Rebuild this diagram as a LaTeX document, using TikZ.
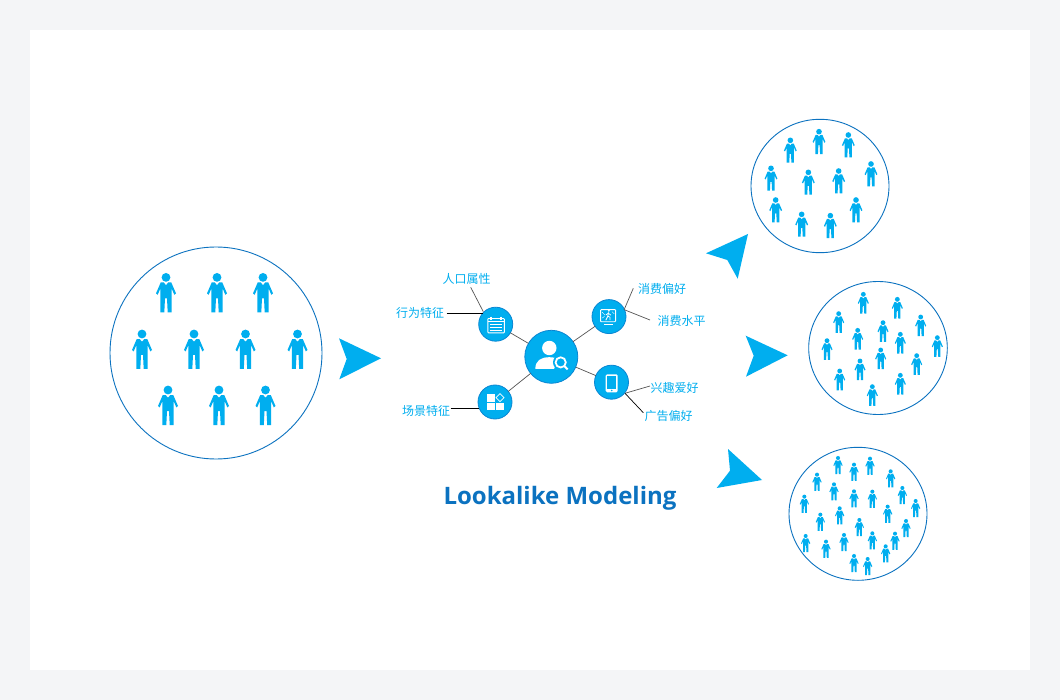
\documentclass[tikz,border=0pt]{standalone}
\usepackage{fontspec}
\setmainfont{Noto Sans CJK SC}
\newfontfamily\titlefont{Open Sans}
\definecolor{cy}{HTML}{00AEEF}
\definecolor{ringc}{HTML}{0B72C0}
\definecolor{rimc}{HTML}{0A86D2}
\definecolor{pagebg}{HTML}{F4F5F7}
\definecolor{leadc}{HTML}{555555}
\tikzset{
 person/.pic={
  \fill[cy] (0,0) circle (4.4);
  \fill[cy] (-5.3,5.1) -- (-2.2,5.1) -- (0,7.8) -- (2.2,5.1) -- (5.3,5.1) -- (10,16) -- (8.3,17.4) -- (5.7,11.2) -- (5.7,35) -- (1.7,35) -- (1,21) -- (-1,21) -- (-1.7,35) -- (-5.7,35) -- (-5.7,11.2) -- (-8.3,17.4) -- (-10,16) -- cycle;
 },
 ring/.style={draw=ringc,line width=0.9pt,fill=white},
 dart/.style={fill=cy},
 hubnode/.style={circle,fill=cy,draw=rimc,line width=0.8pt,inner sep=0,outer sep=0,minimum size=#1},
 lab/.style={text=cy,font=\fontsize{12}{14}\selectfont,inner sep=0},
 lead/.style={draw=leadc,line width=0.7pt},
 leadk/.style={draw=black,line width=0.7pt},
 ico/.style={draw=white,line width=0.9pt},
}
\begin{document}
\begin{tikzpicture}[x=1pt,y=-1pt]
\useasboundingbox (0,0) rectangle (1060,700);
\fill[pagebg] (0,0) rectangle (1060,700);
\fill[white] (30,30) rectangle (1030,670);
% population circles
\draw[ring] (216,353) circle (106);
\draw[ring] (820,186) ellipse [x radius=69,y radius=66.7];
\draw[ring] (878,348) ellipse [x radius=69.3,y radius=66.5];
\draw[ring] (858,513.8) ellipse [x radius=69,y radius=66.5];
% people
\foreach \x/\y in {166/277.4,217/277.4,263/277.4,142/334,194/334,245.5/334,297.5/334,168/390,219/390,265.5/390}
 \pic at (\x,\y) {person};
\foreach \x/\y in {136/76,222/50,310/60,78/160,190/172,281/168,378/147,92/255,170/298,256/302,333/255}
 \pic[scale=.64] at ({745+\x/3},{115+\y/3}) {person};
\foreach \x/\y in {181/52,283/67,107/110,164/160,240/137,292/172,353/120,403/182,72/191,233/219,341/236,171/252,110/282,292/295,208/329}
 \pic[scale=.55] at ({803+\x/3},{277+\y/3}) {person};
\foreach \x/\y in {165/45,213/65,261/47,323/85,102/95,153/124,358/135,213/145,268/146,64/161,398/174,170/196,314/191,112/215,229/231,369/234,68/279,129/296,183/276,268/271,336/272,308/310,213/339,254/348}
 \pic[scale=.46] at ({783+\x/3},{443+\y/3}) {person};
% darts
\fill[dart] (339,338.3) -- (381,358.3) -- (339.3,379.3) -- (346.7,359) -- cycle;
\fill[dart] (745.7,335.7) -- (787.7,355.3) -- (746,376.7) -- (753.7,355.7) -- cycle;
\fill[dart] (728,449) -- (762,480) -- (716.7,488) -- (730,470.7) -- cycle;
\fill[dart] (748,234) -- (706,253.3) -- (727.3,260) -- (737.7,278.7) -- cycle;
% hub nodes
\node[hubnode=53pt] (hub) at (551.3,356.8) {};
\node[hubnode=34pt] (cal) at (495.7,324.2) {};
\node[hubnode=34pt] (mon) at (609,316.6) {};
\node[hubnode=34pt] (pho) at (611.5,382.2) {};
\node[hubnode=34pt] (blk) at (495,402) {};
\draw[lead] (hub) -- (cal);
\draw[lead] (hub) -- (mon);
\draw[lead] (hub) -- (pho);
\draw[lead] (hub) -- (blk);
% labels
\node[lab] (l1) at (466.7,279.2) {人口属性};
\node[lab] (l2) at (420,313.2) {行为特征};
\node[lab] (l3) at (426,410.6) {场景特征};
\node[lab] (l4) at (662,289.2) {消费偏好};
\node[lab] (l5) at (681.7,321.2) {消费水平};
\node[lab] (l6) at (674.7,387.6) {兴趣爱好};
\node[lab] (l7) at (668.7,416.2) {广告偏好};
% leader lines
\coordinate (c1) at (470.7,287.3);
\coordinate (c2) at (446.7,313);
\coordinate (c3) at (450.7,408.3);
\coordinate (c4) at (633.3,288.3);
\coordinate (c5) at (650,320);
\coordinate (c6) at (650,386);
\coordinate (c7) at (643.3,412.7);
\coordinate (m1) at (483.3,311.7);
\coordinate (m2) at (483.3,313);
\coordinate (m3) at (478.7,408.3);
\coordinate (m4) at (624,310);
\coordinate (m5) at (625,310);
\coordinate (m6) at (625,393.3);
\draw[lead] (c1) -- (m1);
\draw[leadk] (c2) -- (m2);
\draw[leadk] (c3) -- (m3);
\draw[lead] (c4) -- (m4);
\draw[lead] (c5) -- (m5);
\draw[lead] (c6) -- (m6);
\draw[leadk] (c7) -- (m6);
% hub icon
\fill[white] (549.3,348) circle (7.2);
\fill[white] (535.3,369) .. controls (535.3,360.5) and (541,357.2) .. (549.3,357.2) .. controls (553,357.2) and (556,358) .. (558,359.5) -- (554,369) -- cycle;
\draw[draw=cy,line width=1.6pt,fill=cy] (560.7,362.4) circle (6.9);
\draw[white,line width=1.8pt,fill=cy] (560.7,362.4) circle (5.1);
\draw[white,line width=2pt] (564.6,366.2) -- (567.6,369.4);
% calendar icon
\draw[ico,rounded corners=0.8pt] (487.8,318.5) rectangle (504.4,332.9);
\draw[ico,line width=1.2pt] (491,316.6) -- (491,319.8);
\draw[ico,line width=1.2pt] (501,316.6) -- (501,319.8);
\draw[ico] (487.8,321.5) -- (504.4,321.5);
\draw[ico,line width=0.8pt] (490,324.4) -- (502,324.4);
\draw[ico,line width=0.8pt] (490,327.2) -- (502,327.2);
\draw[ico,line width=0.8pt] (490,330) -- (502,330);
% monitor icon
\draw[ico,rounded corners=0.8pt] (600.6,309.6) rectangle (615.6,321.8);
\fill[white] (603.7,324) rectangle (612.5,325.1);
\fill[white] (608.8,310.8) circle (1);
\draw[white,line width=0.9pt] (608.5,312.4) -- (607.8,316.2) -- (605.8,320.2);
\draw[white,line width=0.7pt] (607.8,316.2) -- (610,317.2) -- (610,320.2);
\draw[white,line width=0.7pt] (608.3,313.2) -- (605.8,315);
\draw[white,line width=0.7pt] (608.3,313.2) -- (611,315.2);
\draw[white,line width=0.4pt] (602.2,312.2) -- (605,315.2) (602.2,318.2) -- (604.5,316.2) (612,311.7) -- (614.2,313.7);
% phone icon
\fill[white,rounded corners=1.4pt] (605.7,374.3) rectangle (617.7,392.3);
\fill[cy] (607,376.3) rectangle (616.4,388.6);
\fill[cy] (611.7,390.5) circle (0.8);
% blocks icon
\fill[white] (487.3,394.3) rectangle (495,401.7);
\fill[white] (487.3,402.7) rectangle (495,410);
\fill[white] (496,402.7) rectangle (504,410);
\draw[white,line width=0.7pt] (500,393.7) -- (504,397.7) -- (500,401.7) -- (496,397.7) -- cycle;
% title
\node[text=ringc,font=\titlefont\bfseries\fontsize{24}{28}\selectfont,inner sep=0,anchor=base] (title) at (560,504.5) {Lookalike Modeling};
\end{tikzpicture}
\end{document}
